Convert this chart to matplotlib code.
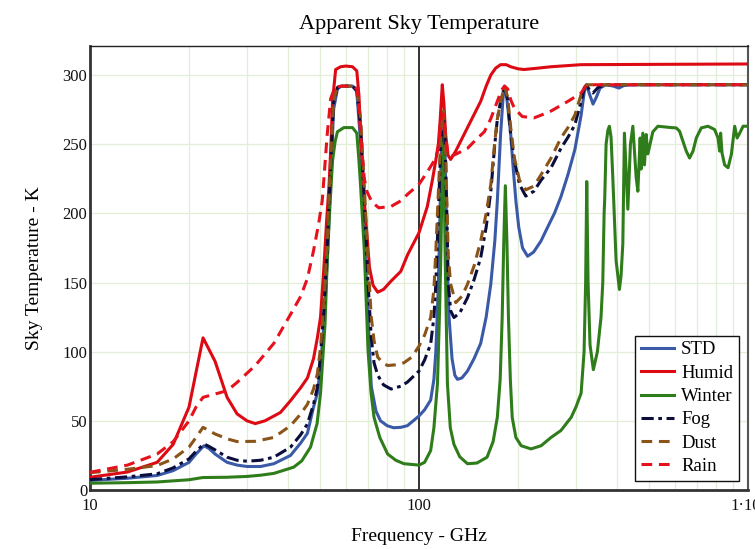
import matplotlib
matplotlib.use('Agg')
import matplotlib.pyplot as plt
from matplotlib.ticker import FixedLocator, NullFormatter

plt.rcParams['font.family'] = ['Liberation Serif', 'DejaVu Serif']

# ---- data (GHz, K) ----
std_f = [10, 13, 16, 17.9, 20, 21, 22.2, 23, 24, 26.1, 28, 30, 33, 36.2, 40.7, 43.7, 45.8, 47.8, 49.1, 50.2,
         51.4, 52.6, 53.9, 55, 56.5, 58, 60, 62.8, 64.7, 66.5, 68.2, 70, 71.6, 74, 76.4, 80, 83.7, 88, 92.2,
         100, 104, 108.5, 111, 112.5, 114, 115.2, 116.5, 117.5, 118.7, 119.8, 121, 122.5, 123.4, 126, 128.5,
         130.9, 135, 140.4, 147, 154, 160, 165.3, 170, 173, 177, 180, 182, 184, 187, 190, 193, 197, 201, 206.4,
         213.8, 223, 234.8, 246, 258, 270, 283.6, 297.6, 311, 318, 323, 330, 338, 346, 355, 370, 390, 405,
         420, 450, 1000]
std_t = [6.9, 8.5, 10.5, 14, 20, 26, 32, 30, 26, 20, 18, 17, 17, 19, 25, 34, 41, 60, 70, 89,
         120, 165, 225, 275, 290, 292, 292, 292, 288, 250, 185, 125, 75, 57, 50, 46.5, 45, 45.3, 46.5,
         53.5, 58, 65, 80, 100, 135, 173, 230, 262, 272, 255, 200, 145, 125, 95, 83,
         80, 81, 86, 95, 106, 125, 149, 180, 209, 257, 283, 292, 288, 272, 257, 235, 209, 190, 175,
         169, 172, 180, 190, 200, 212, 228, 246, 271, 288, 293, 286, 279, 284, 290.6, 293, 292, 290.6,
         292.5, 293, 293]

humid_f = [10, 13, 16, 17.9, 20, 21, 22.06, 24, 26.1, 28, 30, 31.8, 34, 37.9, 40.7, 43.7, 45.8, 47.8, 49.1,
           50.2, 51.4, 52.4, 53.3, 54, 54.6, 55.8, 57.8, 60, 62.8, 64.7, 65.7, 66.5, 68.2, 70.7, 72.5, 74.9,
           78, 82.2, 88, 92.3, 100, 106, 110, 112.4, 114.5, 116, 117.7, 119, 120.5, 122.5, 124.8, 129.3,
           140.4, 154, 160, 165.3, 171, 177, 184, 190, 200, 208.6, 230, 252, 311, 1000]
humid_t = [9.2, 13, 20, 33, 60, 85, 110, 93, 67, 55, 50, 48, 50, 56, 64.6, 74, 81, 95, 110,
           125, 161, 195, 221, 250, 281, 304, 306, 306.5, 306, 303, 285, 257, 209, 161, 148, 143,
           145, 151, 158, 170, 186, 205, 225, 238, 250, 268, 293, 280, 257, 242, 239, 245,
           262, 281, 292, 300, 305, 307.5, 307.5, 306, 304.5, 304, 305, 306, 307.5, 308]

winter_f = [10, 13, 16, 20, 22, 26, 30, 33, 36.2, 38.5, 41.6, 44, 46.8, 49, 50.2, 50.8, 51.8, 52.6, 53.6,
            54.6, 55.6, 56.5, 59.1, 62.8, 64.7, 65.6, 66.4, 68.2, 70, 71.5, 73, 76, 80.3, 85, 90, 95, 100,
            104, 108.5, 111, 113.8, 115.5, 116.6, 118, 118.9, 120, 122, 124.5, 127.7, 133, 140.4, 150,
            161, 168, 173, 176.5, 179, 181, 183, 185, 187, 189.5, 192, 197, 204.5, 219, 235, 252, 270,
            290, 300, 311, 317.5, 321, 323.5, 326.5, 331, 338.8, 348.5, 357.5, 361.9, 365.3, 366.8,
            370.4, 375, 379, 383.5, 388.2, 397.2, 406.6, 411.3, 416.4, 421.1, 426.2, 431.3, 439.2,
            446.7, 457.2, 462.6, 470.1, 473.4, 479, 484.5, 490.3, 496.2, 513.9, 532.3, 584.6, 605,
            619.4, 634.3, 649.2, 664.4, 680.5, 696.4, 721.1, 755.9, 791.7, 810.7, 819.9, 825.6, 833.8,
            849.1, 869.7, 890, 911, 926.6, 943.6, 966.3, 1000]
winter_t = [4.9, 5.3, 5.8, 7.4, 9, 9.2, 9.8, 10.7, 12, 14, 16.5, 21, 31, 48, 70, 89, 120, 165, 205,
            238, 252, 259, 262, 262, 258, 240, 221, 173, 101, 70, 52.5, 38, 26, 21.5, 19, 18.5, 18,
            20, 28.5, 45, 77, 130, 173, 255, 255, 173, 77, 45, 33, 24, 19, 19.5,
            23.7, 35, 52.5, 80, 125, 180, 220, 180, 125, 80, 52.5, 38, 32, 29.7, 32, 38, 43,
            52.5, 60, 70, 100, 150, 223, 150, 105, 87, 100, 125, 150, 200, 210,
            250, 260, 263, 255, 226, 166, 145, 155, 178, 258, 230, 203, 250,
            263, 226, 216, 254.5, 232, 258, 235, 257, 243, 259, 263, 262, 261.8,
            259.4, 252, 245, 240, 245, 254.5, 261.8, 263, 260.6, 254.5, 245, 258, 243.7,
            235, 233, 242.6, 263, 254.5, 258, 263, 263]

fog_f = [10, 13, 16, 17.9, 20, 21, 22.2, 23, 24, 26.1, 28, 30, 33, 36.2, 40.7, 43.7, 45.8, 47.8, 49.1, 50.2,
         51.4, 52.6, 53.9, 55, 56.5, 58, 60, 62.8, 64.7, 66.5, 68.2, 70, 71.6, 73, 74.9, 78, 82.2, 88, 92.2,
         100, 104, 108.5, 111, 112.5, 114.5, 116.5, 118.7, 120, 121.5, 122.7, 124.8, 127.7, 133, 140.4, 147,
         154, 160, 165.3, 170, 173, 177, 182, 186, 190, 195, 202, 211, 223.5, 235, 252, 270, 283.6, 297.6,
         311, 318, 323, 330, 338, 350, 370, 1000]
fog_t = [7.5, 9.5, 11.7, 16, 22.5, 28, 33.3, 31.5, 29, 23.7, 21.5, 20.8, 21.5, 23.7, 31, 40, 47.8, 62, 74, 98,
         130, 175, 235, 280, 291, 292, 292, 292, 289, 262, 210, 150, 110, 92, 83, 76, 73, 75, 78,
         86, 94, 105.5, 125, 148.8, 200, 250, 272, 255, 200, 150, 129.5, 124.7, 128, 139, 152,
         168, 190, 216, 250, 268, 281, 292, 282, 257, 238, 221, 212.5, 216, 224, 233, 247, 255, 264,
         281, 290.6, 293, 289, 287, 291, 293, 293]

dust_f = [10, 13, 16, 17.9, 20, 21, 22.06, 24, 26.1, 28, 31.8, 36.2, 40.7, 43.7, 45.8, 47.8, 49.1, 50.2,
          51.4, 52.6, 53.9, 55, 56.5, 58, 60, 62.8, 64.7, 66.5, 68.2, 70, 71.6, 73, 74.9, 78, 80.3, 85, 90,
          95, 100, 104, 108.5, 111, 112.5, 114.5, 116.5, 118.7, 120, 121.5, 122.7, 124.8, 129.3, 135, 140.4,
          147, 154, 160, 165.3, 170, 173, 177, 182, 186, 190, 195, 202, 211, 223.5, 235, 252, 270, 283.6,
          297.6, 311, 318, 323, 1000]
dust_t = [12.5, 15, 17.7, 22.5, 31, 38, 45.3, 40.5, 37, 35, 35.2, 38, 46.5, 55, 62, 73, 84, 103,
          135, 180, 240, 282, 291, 292, 292, 292, 290, 268, 220, 165, 125, 108, 96, 91.5, 90, 90.5, 92,
          96, 104, 112, 124.7, 145, 172.8, 215, 255, 274, 260, 210, 170, 148.8, 135.5, 140, 148.8,
          162, 180, 200, 221, 252, 268, 281, 292, 284, 262, 240, 224, 217, 219.7, 228, 240, 254.5, 262,
          271, 286, 291, 293, 293]

rain_f = [10, 13, 16, 17.9, 20, 21, 22.06, 24, 26.1, 28, 31.8, 36.2, 40.7, 43.7, 45.8, 47.8, 49.5, 50.8,
          52.6, 53.9, 55.5, 58, 62.8, 64.9, 66, 67, 68.2, 69.4, 72, 75.5, 82.2, 88, 92.2, 100, 106, 111,
          114, 116.5, 118.7, 120.5, 122.5, 124.8, 130, 140.4, 150, 158, 165, 173, 178, 182, 186, 190, 195,
          206, 223.5, 235, 252, 283.6, 311, 323, 1000]
rain_t = [12.8, 18, 26, 35, 50, 60, 67, 69.4, 71.8, 77.8, 90, 106, 127, 140, 153, 173, 192, 209,
          257, 283, 291, 292, 292, 290, 270, 245, 225, 216, 208, 204, 205, 209, 213.7, 221, 230, 237.7,
          245, 262, 272, 255, 243, 241, 243, 247, 254, 259, 268, 281, 289, 292, 290, 282, 276,
          270, 269, 271, 274, 281, 287, 293, 293]

series = [
    ('STD', std_f, std_t, '#3a5aa8', '-'),
    ('Humid', humid_f, humid_t, '#dd0a14', '-'),
    ('Winter', winter_f, winter_t, '#2f7d1a', '-'),
    ('Fog', fog_f, fog_t, '#0b0d3c', (0, (4, 1.5, 1.2, 1.5))),
    ('Dust', dust_f, dust_t, '#8a5418', (0, (3.5, 2.2))),
    ('Rain', rain_f, rain_t, '#e5121e', (0, (3.5, 2.2))),
]

fig = plt.figure(figsize=(7.55, 5.49), dpi=100)
ax = fig.add_axes([90 / 755, 1 - 490 / 549, (748 - 90) / 755, (490 - 46) / 549])

# grid
grid_col = '#e2eed8'
for v in [20, 30, 40, 50, 60, 70, 80, 90, 200, 300, 400, 500, 600, 700, 800, 900]:
    ax.axvline(v, color=grid_col, lw=0.9, zorder=0)
for h in [50, 100, 150, 200, 250, 300]:
    ax.axhline(h, color=grid_col, lw=0.9, zorder=0)
ax.axvline(100, color='#222222', lw=1.3, zorder=1)

for name, f, t, col, ls in series:
    ax.plot(f, t, color=col, ls=ls, lw=2.2, label=name, zorder=3)

ax.set_xscale('log')
ax.set_xlim(10, 1000)
ax.set_ylim(0, 321)
ax.xaxis.set_major_locator(FixedLocator([10, 100, 1000]))
ax.xaxis.set_minor_locator(FixedLocator([]))
ax.xaxis.set_minor_formatter(NullFormatter())
ax.set_xticklabels(['10', '100', '1·10³'])
ax.set_yticks([0, 50, 100, 150, 200, 250, 300])
ax.tick_params(axis='both', length=0, labelsize=12, colors='#111111')
ax.tick_params(axis='x', pad=6)
ax.tick_params(axis='y', pad=2)

for s in ['left', 'bottom']:
    ax.spines[s].set_linewidth(2)
    ax.spines[s].set_color('#333333')
ax.spines['top'].set_linewidth(1)
ax.spines['top'].set_color('#222222')
ax.spines['right'].set_linewidth(1.5)
ax.spines['right'].set_color('#555555')

ax.set_title('Apparent Sky Temperature', fontsize=16, pad=12)
ax.set_xlabel('Frequency - GHz', fontsize=14, labelpad=10)
ax.set_ylabel('Sky Temperature - K', fontsize=14, labelpad=14)

leg = ax.legend(loc='lower right', fontsize=13.5, frameon=True, fancybox=False,
                edgecolor='#111111', framealpha=1, handlelength=1.8, handletextpad=0.35,
                labelspacing=0.33, borderpad=0.3, borderaxespad=0.5)
leg.get_frame().set_linewidth(1)

fig.savefig('out.png', dpi=100)
